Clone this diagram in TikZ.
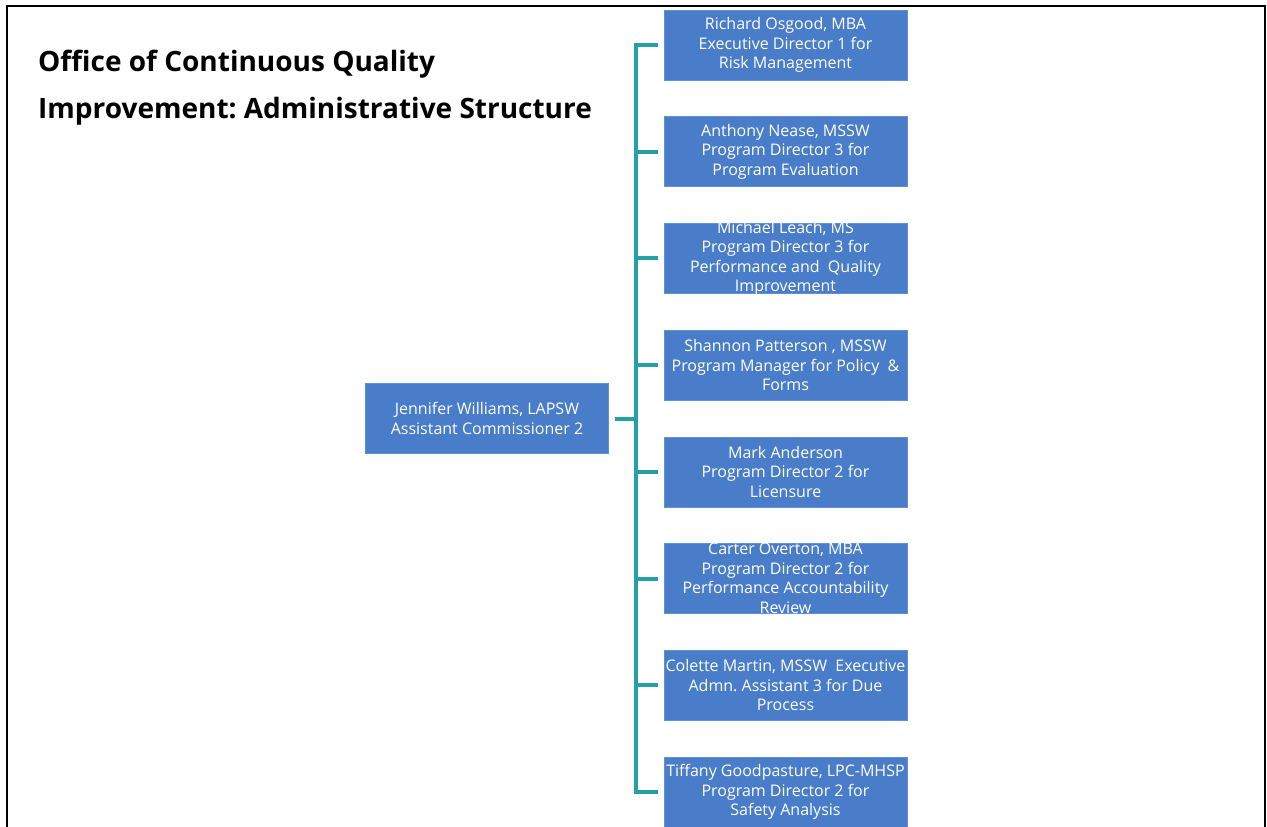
\documentclass[tikz,border=0pt]{standalone}
\usepackage{fontspec}
\setmainfont{Open Sans}
\usepackage{tikz}
\usepackage{xcolor}
\usetikzlibrary{positioning}
\definecolor{boxblue}{RGB}{73,125,201}
\definecolor{linkteal}{RGB}{36,161,168}
\frenchspacing
\newcommand{\boxlines}[1]{\parbox[c][70pt][c]{243pt}{\centering #1}}

\begin{document}
\begin{tikzpicture}[
    x=1pt, y=-1pt,
    staff/.style={rectangle, fill=boxblue, draw=boxblue!85!white, line width=0.6pt, inner sep=0pt, text=white, font=\fontsize{16}{19.5}\selectfont},
    link/.style={draw=linkteal, line width=4pt},
    frame/.style={draw=black, line width=2.5pt}
]
\useasboundingbox (0,0) rectangle (1267,827);

% ========== MARCO ==========
\draw[frame] (7,830) -- (7,6) -- (1265,6) -- (1265,830);

% ========== TITULO ==========
\node[anchor=base west, align=left, inner sep=0pt, font=\bfseries\fontsize{28}{47}\selectfont] (title) at (38,118) {Office of Continuous Quality\\Improvement: Administrative Structure};

% ========== RAIZ ==========
\node[staff] (root) at (487,418.5) {\boxlines{Jennifer Williams, LAPSW\\Assistant Commissioner 2}};

% ========== EQUIPO ==========
\node[staff] (b1) at (785.5,45) {\boxlines{Richard Osgood, MBA\\Executive Director 1 for\\Risk Management}};
\node[staff, below=36.1pt of b1] (b2) {\boxlines{Anthony Nease, MSSW\\Program Director 3 for\\Program Evaluation}};
\node[staff, below=36.1pt of b2] (b3) {\boxlines{Michael Leach, MS\\Program Director 3 for\\Performance and~ Quality\\Improvement}};
\node[staff, below=36.1pt of b3] (b4) {\boxlines{Shannon Patterson , MSSW\\Program Manager for Policy~ \&\\Forms}};
\node[staff, below=36.1pt of b4] (b5) {\boxlines{Mark Anderson\\Program Director 2 for\\Licensure}};
\node[staff, below=36.1pt of b5] (b6) {\boxlines{Carter Overton, MBA\\Program Director 2 for\\Performance Accountability\\Review}};
\node[staff, below=36.1pt of b6] (b7) {\boxlines{Colette Martin, MSSW~ Executive\\Admn. Assistant 3 for Due\\Process}};
\node[staff, below=36.1pt of b7] (b8) {\boxlines{Tiffany Goodpasture, LPC-MHSP\\Program Director 2 for\\Safety Analysis}};

% ========== CONECTORES ==========
\coordinate (bus) at (636,0);
\draw[link, shorten <=6pt, shorten >=6pt] (b1.west) -| (bus |- b8.west) -- (b8.west);
\foreach \i in {2,...,7}
    \draw[link, shorten >=6pt] (bus |- b\i.west) -- (b\i.west);
\draw[link, shorten <=6pt] (root.east) -- (root.east -| bus);

\end{tikzpicture}
\end{document}
